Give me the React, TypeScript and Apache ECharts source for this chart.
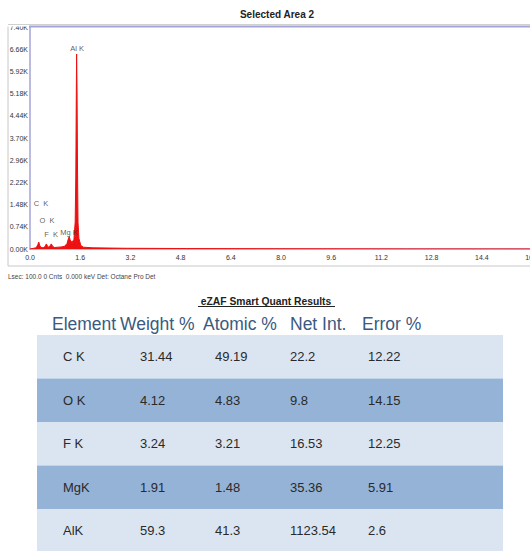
import React, { useEffect, useRef } from "react";
import * as echarts from "echarts";

// Spectrum (energy keV, counts)
const energyKeV = [0.0, 0.1, 0.18, 0.22, 0.25, 0.28, 0.31, 0.35, 0.42, 0.48, 0.52, 0.56, 0.6, 0.64, 0.68, 0.72, 0.78, 0.9, 1.0, 1.1, 1.18, 1.22, 1.25, 1.28, 1.34, 1.4, 1.44, 1.46, 1.475, 1.486, 1.5, 1.515, 1.53, 1.56, 1.62, 1.7, 2.0, 3.0, 5.0, 8.0, 12.0, 20.0];
const counts = [0, 20, 40, 80, 150, 230, 120, 50, 40, 80, 170, 90, 60, 110, 170, 90, 50, 60, 70, 90, 180, 330, 410, 300, 220, 320, 900, 2400, 5000, 6500, 5200, 2600, 900, 350, 120, 60, 40, 25, 15, 8, 4, 0];

// Peak labels
const peakNames = ["C  K", "O  K", "F  K", "Mg K", "Al K"];
const peakLabelEnergy = [0.35, 0.54, 0.67, 1.24, 1.5];
const peakLabelCounts = [1530, 960, 500, 560, 6700];

// Table
const tableTitle = "eZAF Smart Quant Results";
const headers = ["Element", "Weight %", "Atomic %", "Net Int.", "Error %"];
const elements = ["C K", "O K", "F K", "MgK", "AlK"];
const weightPct = ["31.44", "4.12", "3.24", "1.91", "59.3"];
const atomicPct = ["49.19", "4.83", "3.21", "1.48", "41.3"];
const netInt = ["22.2", "9.8", "16.53", "35.36", "1123.54"];
const errorPct = ["12.22", "14.15", "12.25", "5.91", "2.6"];

const FONT = "Liberation Sans, Arial, sans-serif";

export default function App() {
  const ref = useRef<HTMLDivElement>(null);
  useEffect(() => {
    if (!ref.current) return;
    const chart = echarts.init(ref.current, null, { renderer: "svg" });

    const headerX = [52, 120, 203, 290, 362];
    const cellX = [63, 140, 215, 290, 368];
    const tableTop = 335;
    const rowH = 43.5;
    const cols = [elements, weightPct, atomicPct, netInt, errorPct];

    const graphics: any[] = [];
    // outer frame
    graphics.push({ type: "line", shape: { x1: 8, y1: 24, x2: 8, y2: 266 }, style: { stroke: "#c8c8c8", lineWidth: 1 }, z: 1 });
    graphics.push({ type: "line", shape: { x1: 8, y1: 266, x2: 530, y2: 266 }, style: { stroke: "#c8c8c8", lineWidth: 1 }, z: 1 });
    // cover top (cuts the top tick label like in reference)
    graphics.push({ type: "rect", shape: { x: 0, y: 0, width: 530, height: 26.5 }, style: { fill: "#ffffff" }, z: 100 });
    graphics.push({ type: "line", shape: { x1: 8, y1: 24.5, x2: 530, y2: 24.5 }, style: { stroke: "#d0d0d0", lineWidth: 1 }, z: 101 });
    graphics.push({ type: "line", shape: { x1: 29, y1: 26.5, x2: 530, y2: 26.5 }, style: { stroke: "#a4a4d8", lineWidth: 2 }, z: 101 });
    graphics.push({
      type: "text", x: 277, y: 14, z: 102,
      style: { text: "Selected Area 2", font: `bold 10px ${FONT}`, fill: "#222", textAlign: "center", textVerticalAlign: "middle" },
    });
    graphics.push({
      type: "text", x: 8, y: 276, z: 10,
      style: { text: "Lsec: 100.0 0 Cnts  0.000 keV Det: Octane Pro Det", font: `6.5px ${FONT}`, fill: "#444", textAlign: "left", textVerticalAlign: "middle" },
    });
    // table title
    graphics.push({
      type: "text", x: 266, y: 301, z: 10,
      style: { text: tableTitle, font: `bold 10.3px ${FONT}`, fill: "#222", textAlign: "center", textVerticalAlign: "middle" },
    });
    graphics.push({ type: "line", shape: { x1: 198, y1: 306.5, x2: 335, y2: 306.5 }, style: { stroke: "#222", lineWidth: 1 }, z: 10 });
    headers.forEach((h, i) => {
      graphics.push({
        type: "text", x: headerX[i], y: 324, z: 10,
        style: { text: h, font: `17.5px ${FONT}`, fill: "#3a5a80", textAlign: "left", textVerticalAlign: "middle" },
      });
    });
    elements.forEach((_, r) => {
      graphics.push({
        type: "rect", z: 5,
        shape: { x: 37, y: tableTop + r * rowH, width: 466, height: rowH },
        style: { fill: r % 2 === 0 ? "#dbe5f1" : "#95b3d7" },
      });
      cols.forEach((col, c) => {
        graphics.push({
          type: "text", x: cellX[c], y: tableTop + r * rowH + rowH / 2, z: 10,
          style: { text: col[r], font: `13px ${FONT}`, fill: "#2a2a2a", textAlign: "left", textVerticalAlign: "middle" },
        });
      });
    });

    chart.setOption({
      animation: false,
      backgroundColor: "#ffffff",
      grid: { left: 30, top: 27, width: 627.5, height: 222, show: false, outerBoundsMode: "none", containLabel: false },
      xAxis: {
        type: "value", min: 0, max: 20, interval: 1.6,
        axisLine: { show: true, lineStyle: { color: "#a4a4d8", width: 1.5 } },
        axisTick: { show: false },
        splitLine: { show: false },
        axisLabel: { fontSize: 7, color: "#333", fontFamily: FONT, margin: 5, formatter: (v: number) => v.toFixed(1) },
      },
      yAxis: {
        type: "value", min: 0, max: 7400, interval: 740,
        axisLine: { show: true, lineStyle: { color: "#a4a4d8", width: 1.5 } },
        axisTick: { show: false },
        splitLine: { show: false },
        axisLabel: { fontSize: 7, color: "#333", fontFamily: FONT, margin: 2, formatter: (v: number) => (v / 1000).toFixed(2) + "K" },
      },
      series: [
        {
          type: "line",
          data: energyKeV.map((e, i) => [e, counts[i]]),
          symbol: "none",
          lineStyle: { color: "#ee1111", width: 1 },
          areaStyle: { color: "#ee1111", opacity: 1 },
          z: 3,
        },
        {
          type: "scatter",
          symbolSize: 0,
          data: peakLabelEnergy.map((e, i) => ({ value: [e, peakLabelCounts[i]], name: peakNames[i] })),
          label: {
            show: true, position: "inside", formatter: (p: any) => p.name,
            fontSize: 7.5, color: "#333", fontFamily: FONT,
          },
          z: 4,
        },
      ],
      graphic: graphics,
    });
    return () => chart.dispose();
  }, []);
  return <div ref={ref} style={{ position: "fixed", left: 0, top: 0, width: 530, height: 551 }} />;
}
